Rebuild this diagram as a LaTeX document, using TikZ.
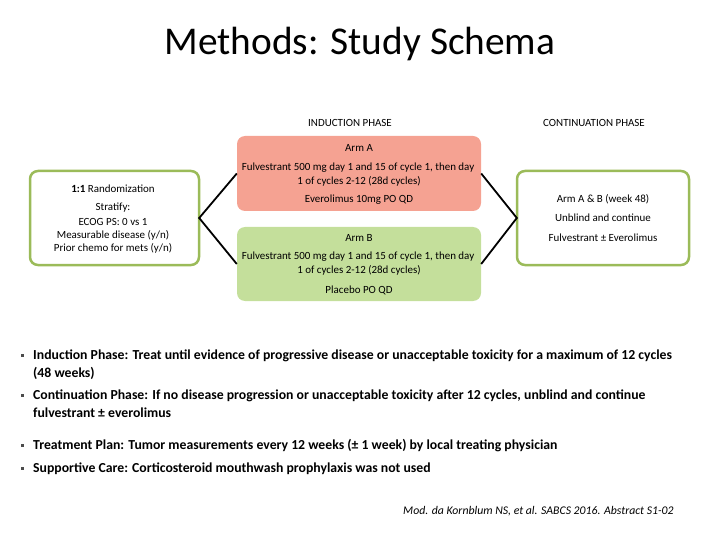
\documentclass[tikz,border=0pt]{standalone}
\usepackage{fontspec}
\setmainfont{Carlito}
\definecolor{boxgreen}{RGB}{155,187,89}
\definecolor{armared}{RGB}{245,162,146}
\definecolor{armbgreen}{RGB}{196,223,155}
\tikzset{
  outline/.style={draw=boxgreen, line width=2.5bp, rounded corners=8bp, fill=white},
  armbox/.style={draw=none, rounded corners=8bp},
  conn/.style={draw=black, line width=1.8bp},
  boxtxt/.style={font=\fontsize{11}{13}\selectfont, align=center, inner sep=0pt},
  phase/.style={font=\fontsize{11}{13}\selectfont, inner sep=0pt},
  bullettxt/.style={font=\fontsize{13.8}{16}\selectfont\bfseries, anchor=west, inner sep=0pt},
  bulletmark/.style={fill=black!70, minimum size=3bp, inner sep=0pt},
}
\begin{document}
\begin{tikzpicture}[x=1bp,y=-1bp]
\useasboundingbox (0,0) rectangle (720,540);
% title
\node[font=\fontsize{39.5}{44}\selectfont, inner sep=0pt] (title) at (360,44) {Methods: Study Schema};
% phase labels
\node[phase] (ind) at (350,123) {INDUCTION PHASE};
\node[phase] (cont) at (594,123) {CONTINUATION PHASE};
% boxes
\path[outline] (30,171) rectangle (199,265);
\node[inner sep=0pt, minimum width=169bp, minimum height=94bp] (rand) at (114.5,218) {};
\path[armbox, fill=armared] (237,136) rectangle (481,211);
\node[inner sep=0pt, minimum width=244bp, minimum height=75bp] (arma) at (359,173.5) {};
\path[armbox, fill=armbgreen] (237,227) rectangle (481,301);
\node[inner sep=0pt, minimum width=244bp, minimum height=74bp] (armb) at (359,264) {};
\path[outline] (517,171) rectangle (689,265);
\node[inner sep=0pt, minimum width=172bp, minimum height=94bp] (contbox) at (603,218) {};
% connectors
\draw[conn] (arma.west) -- (rand.east) -- (armb.west);
\draw[conn] (arma.east) -- (contbox.west) -- (armb.east);
% randomization text
\node[boxtxt] (r1) at (113,189) {\textbf{1:1} Randomization};
\node[boxtxt] (r2) at (113,208) {Stratify:};
\node[boxtxt] (r3) at (113,221.5) {ECOG PS: 0 vs 1};
\node[boxtxt] (r4) at (113,235) {Measurable disease (y/n)};
\node[boxtxt] (r5) at (113,248.5) {Prior chemo for mets (y/n)};
% arm A text
\node[boxtxt] (a1) at (359,148) {Arm A};
\node[boxtxt] (a2) at (358,168) {Fulvestrant 500 mg day 1 and 15 of cycle 1, then day};
\node[boxtxt] (a3) at (359,181) {1 of cycles 2-12 (28d cycles)};
\node[boxtxt] (a4) at (359,200) {Everolimus 10mg PO QD};
% arm B text
\node[boxtxt] (b1) at (359,238) {Arm B};
\node[boxtxt] (b2) at (358,257) {Fulvestrant 500 mg day 1 and 15 of cycle 1, then day};
\node[boxtxt] (b3) at (359,270) {1 of cycles 2-12 (28d cycles)};
\node[boxtxt] (b4) at (359,290) {Placebo PO QD};
% continuation text
\node[boxtxt] (c1) at (603,199) {Arm A \& B (week 48)};
\node[boxtxt] (c2) at (603,218) {Unblind and continue};
\node[boxtxt] (c3) at (603,238) {Fulvestrant ± Everolimus};
% bullets
\node[bulletmark] (m1) at (22,355) {};
\node[bullettxt] (t1) at (33,356) {Induction Phase: Treat until evidence of progressive disease or unacceptable toxicity for a maximum of 12 cycles};
\node[bullettxt] (t1b) at (33,373) {(48 weeks)};
\node[bulletmark] (m2) at (22,395) {};
\node[bullettxt] (t2) at (33,396) {Continuation Phase: If no disease progression or unacceptable toxicity after 12 cycles, unblind and continue};
\node[bullettxt] (t2b) at (33,413) {fulvestrant ± everolimus};
\node[bulletmark] (m3) at (22,445) {};
\node[bullettxt] (t3) at (33,446) {Treatment Plan: Tumor measurements every 12 weeks (± 1 week) by local treating physician};
\node[bulletmark] (m4) at (22,468) {};
\node[bullettxt] (t4) at (33,469) {Supportive Care: Corticosteroid mouthwash prophylaxis was not used};
% citation
\node[font=\fontsize{11.8}{14}\selectfont\itshape, anchor=west, inner sep=0pt] (cite) at (403,511) {Mod. da Kornblum NS, et al. SABCS 2016. Abstract S1-02};
\end{tikzpicture}
\end{document}
